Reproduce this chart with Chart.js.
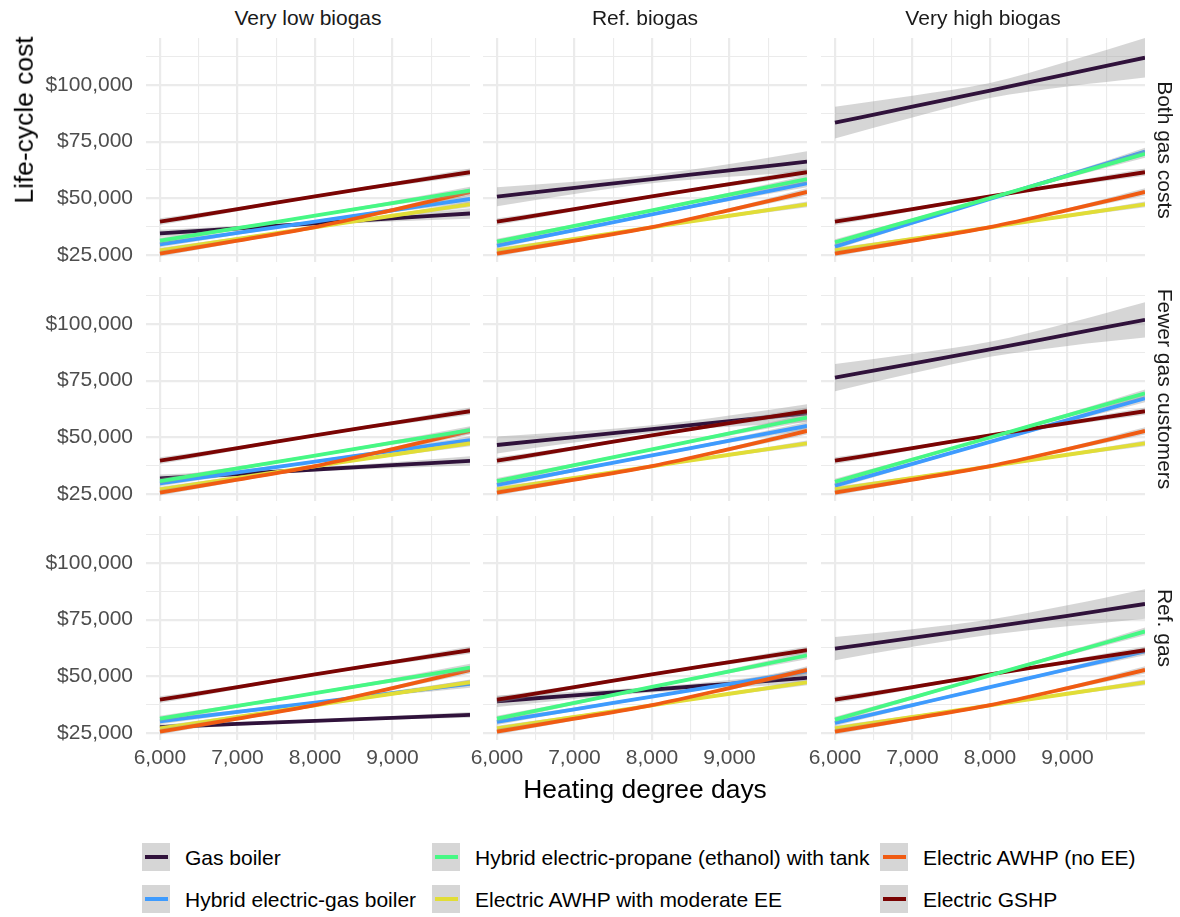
<!DOCTYPE html>
<html>
<head>
<meta charset="utf-8">
<title>Life-cycle cost by heating degree days</title>
<script src="https://cdn.jsdelivr.net/npm/chart.js@4.4.1/dist/chart.umd.min.js"></script>
<style>
  html, body { margin: 0; padding: 0; background: #ffffff; }
  #fig { position: relative; width: 1180px; height: 917px; overflow: hidden;
         font-family: "Liberation Sans", Arial, Helvetica, sans-serif; background: #ffffff; }
  #fig canvas { position: absolute; }
  .lbl { position: absolute; white-space: nowrap; line-height: 1; }
  .key { position: absolute; width: 28px; height: 28px; background: #d6d6d6; }
  .key i { position: absolute; left: 3px; top: 12px; width: 23px; height: 4px; }
</style>
</head>
<body>
<div id="fig"></div>
<script>
// ---- facet labels ----
const columnLabels = ['Very low biogas', 'Ref. biogas', 'Very high biogas'];
const rowLabels = ['Both gas costs', 'Fewer gas customers', 'Ref. gas'];

// ---- series (legend order) ----
const seriesNames = [
  'Gas boiler',
  'Hybrid electric-gas boiler',
  'Hybrid electric-propane (ethanol) with tank',
  'Electric AWHP with moderate EE',
  'Electric AWHP (no EE)',
  'Electric GSHP'
];
const seriesColors = ['#30123B', '#3E9BFE', '#46F884', '#E1DD37', '#F05B12', '#7A0403'];

// ---- axis ticks ----
const hdd = [6000, 7000, 8000, 9000, 10000];
const xTickValues = [6000, 6500, 7000, 7500, 8000, 8500, 9000, 9500];
const yTickValues = [25000, 37500, 50000, 62500, 75000, 87500, 100000, 112500];

// ---- fitted life-cycle cost at each hdd value, one row per facet
//      (rows: Both gas costs / Fewer gas customers / Ref. gas; each with the 3 biogas columns) ----
const gasBoilerCost = [
  [34500, 36700, 38900, 41100, 43300],
  [50700, 54600, 58500, 62300, 66200],
  [83400, 90400, 97500, 104800, 112000],
  [31900, 33800, 35800, 37700, 39600],
  [46600, 50100, 53600, 57100, 60600],
  [76300, 82500, 88800, 95300, 101800],
  [27600, 29000, 30300, 31700, 33000],
  [39000, 41600, 44100, 46700, 49300],
  [62200, 66900, 71700, 76700, 81900]
];
const gasBoilerBand = [
  [1600, 1100, 900, 1300, 2300],
  [4200, 2700, 1900, 2800, 4500],
  [7000, 4800, 3300, 5500, 8700],
  [1700, 1100, 900, 1300, 2000],
  [3700, 2400, 1700, 2500, 4000],
  [6000, 4300, 3300, 5000, 7800],
  [1200, 800, 600, 800, 1300],
  [2500, 1600, 1200, 1700, 2600],
  [5100, 3900, 3400, 4600, 6500]
];
const hybridGasCost = [
  [29700, 34700, 39700, 44700, 49700],
  [29100, 36000, 42900, 49700, 56600],
  [28700, 39200, 49700, 60100, 70600],
  [29700, 34500, 39300, 44000, 48800],
  [29000, 35500, 42000, 48500, 55000],
  [28700, 38300, 48000, 57600, 67200],
  [30100, 34300, 38400, 42600, 46700],
  [29850, 35450, 41000, 46600, 52200],
  [29400, 37300, 45200, 53100, 61000]
];
const hybridPropaneCost = [
  [31300, 36800, 42300, 47900, 53400],
  [30900, 37800, 44700, 51600, 58500],
  [30600, 40400, 50100, 59900, 69600],
  [30700, 36300, 41900, 47600, 53200],
  [30700, 37700, 44700, 51700, 58700],
  [30400, 40200, 49900, 59700, 69400],
  [31300, 36900, 42600, 48200, 53800],
  [31300, 38300, 45300, 52200, 59200],
  [30900, 40600, 50400, 60100, 69800]
];
// all-electric options are the same in every facet
const awhpModerateEECost = [27000, 32100, 37200, 42300, 47300];
const awhpNoEECost = [25600, 31300, 37300, 44800, 52800];
const gshpCost = [39700, 45200, 50900, 56200, 61500];

const hybridGasBand = [1300, 800, 600, 900, 1700];
const hybridPropaneBand = [1300, 800, 600, 900, 1700];
const awhpModerateEEBand = [1200, 700, 500, 700, 1300];
const awhpNoEEBand = [1300, 800, 600, 800, 1600];
const gshpBand = [1500, 900, 700, 900, 1600];

const costs = [gasBoilerCost, hybridGasCost, hybridPropaneCost, awhpModerateEECost, awhpNoEECost, gshpCost];
const bands = [gasBoilerBand, hybridGasBand, hybridPropaneBand, awhpModerateEEBand, awhpNoEEBand, gshpBand];

// ---- layout ----
const PANEL_LEFT = [146, 483, 821];
const PANEL_TOP = [38, 277, 516];
const PANEL_W = 324, PANEL_H = 224;
const X_MIN = 5820, X_MAX = 10000, Y_MIN = 21900, Y_MAX = 120700;
const DRAW_ORDER = [0, 1, 3, 4, 5, 2];
const RIBBON = 'rgba(153,153,153,0.4)';
const GRID = '#ebebeb';
const FONT = '"Liberation Sans", Arial, Helvetica, sans-serif';

const fig = document.getElementById('fig');
const pick = (arr, p) => Array.isArray(arr[0]) ? arr[p] : arr;

function addLabel(text, cx, cy, size, color, rotate) {
  const d = document.createElement('div');
  d.className = 'lbl';
  d.textContent = text;
  d.style.left = cx + 'px';
  d.style.top = cy + 'px';
  d.style.fontSize = size + 'px';
  d.style.color = color;
  d.style.transform = 'translate(-50%,-50%)' + (rotate ? ' rotate(' + rotate + 'deg)' : '');
  fig.appendChild(d);
}

function buildPanel(row, col) {
  const p = row * 3 + col;
  const showY = col === 0, showX = row === 2;
  const axisW = showY ? 146 : 30;
  const axisH = showX ? 40 : 0;

  const canvas = document.createElement('canvas');
  canvas.width = axisW + PANEL_W;
  canvas.height = PANEL_H + axisH;
  canvas.style.left = (PANEL_LEFT[col] - axisW) + 'px';
  canvas.style.top = PANEL_TOP[row] + 'px';
  fig.appendChild(canvas);

  const datasets = [];
  DRAW_ORDER.forEach(s => {
    const fit = pick(costs[s], p), band = pick(bands[s], p);
    const common = { pointRadius: 0, cubicInterpolationMode: 'monotone', clip: 0 };
    datasets.push(Object.assign({
      data: hdd.map((x, i) => ({ x, y: fit[i] + band[i] })),
      fill: '+1', backgroundColor: RIBBON, borderColor: 'rgba(0,0,0,0)', borderWidth: 0
    }, common));
    datasets.push(Object.assign({
      data: hdd.map((x, i) => ({ x, y: fit[i] - band[i] })),
      fill: false, borderColor: 'rgba(0,0,0,0)', borderWidth: 0
    }, common));
    datasets.push(Object.assign({
      label: seriesNames[s],
      data: hdd.map((x, i) => ({ x, y: fit[i] })),
      fill: false, borderColor: seriesColors[s], borderWidth: 3.8, borderCapStyle: 'butt'
    }, common));
  });
  datasets.forEach((d, i) => { d.order = -i; });

  new Chart(canvas, {
    type: 'line',
    data: { datasets },
    options: {
      responsive: false,
      animation: false,
      devicePixelRatio: 1,
      events: [],
      layout: { padding: 0 },
      plugins: { legend: { display: false }, tooltip: { enabled: false } },
      scales: {
        x: {
          type: 'linear', min: X_MIN, max: X_MAX,
          afterBuildTicks: s => { s.ticks = xTickValues.map(v => ({ value: v })); },
          afterFit: s => { s.height = axisH; s.paddingLeft = 0; s.paddingRight = 0; },
          border: { display: false },
          grid: { color: GRID, drawTicks: false,
                  lineWidth: c => (c.tick && c.tick.value % 1000 === 0) ? 2.2 : 1.1 },
          ticks: { display: showX, autoSkip: false, maxRotation: 0, minRotation: 0, padding: 6,
                   color: '#4d4d4d', font: { family: FONT, size: 21 },
                   callback: v => v % 1000 === 0 ? v.toLocaleString('en-US') : '' }
        },
        y: {
          type: 'linear', min: Y_MIN, max: Y_MAX,
          afterBuildTicks: s => { s.ticks = yTickValues.map(v => ({ value: v })); },
          afterFit: s => { s.width = axisW; s.paddingTop = 0; s.paddingBottom = 0; },
          border: { display: false },
          grid: { color: GRID, drawTicks: false,
                  lineWidth: c => (c.tick && c.tick.value % 25000 === 0) ? 2.2 : 1.1 },
          ticks: { display: showY, autoSkip: false, padding: 13,
                   color: '#4d4d4d', font: { family: FONT, size: 21 },
                   callback: v => v % 25000 === 0 ? '$' + v.toLocaleString('en-US') : '' }
        }
      }
    }
  });
}

for (let r = 0; r < 3; r++) for (let c = 0; c < 3; c++) buildPanel(r, c);

// facet strips
columnLabels.forEach((t, c) => addLabel(t, PANEL_LEFT[c] + PANEL_W / 2, 17, 21, '#1a1a1a'));
rowLabels.forEach((t, r) => addLabel(t, 1165, PANEL_TOP[r] + PANEL_H / 2, 21, '#1a1a1a', 90));

// axis titles
addLabel('Life-cycle cost', 24, 120, 26.4, '#000000', -90);
addLabel('Heating degree days', 645, 789, 26.4, '#000000');

// legend (two rows, filled column by column)
const KEY_LEFT = [142, 432, 880];
const KEY_TOP = [843, 885];
seriesNames.forEach((name, i) => {
  const col = Math.floor(i / 2), row = i % 2;
  const k = document.createElement('div');
  k.className = 'key';
  k.style.left = KEY_LEFT[col] + 'px';
  k.style.top = KEY_TOP[row] + 'px';
  const ln = document.createElement('i');
  ln.style.background = seriesColors[i];
  k.appendChild(ln);
  fig.appendChild(k);
  const t = document.createElement('div');
  t.className = 'lbl';
  t.textContent = name;
  t.style.left = (KEY_LEFT[col] + 43) + 'px';
  t.style.top = (KEY_TOP[row] + 14) + 'px';
  t.style.fontSize = '21px';
  t.style.color = '#000000';
  t.style.transform = 'translateY(-50%)';
  fig.appendChild(t);
});
</script>
</body>
</html>
